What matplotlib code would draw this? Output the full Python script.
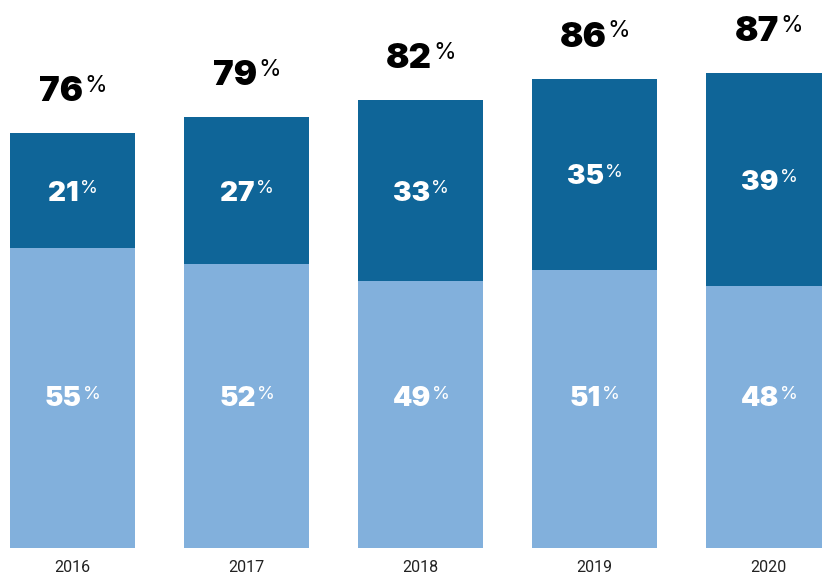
import matplotlib.pyplot as plt

years = ['2016', '2017', '2018', '2019', '2020']
lower = [55, 52, 49, 51, 48]
upper = [21, 27, 33, 35, 39]
totals = [76, 79, 82, 86, 87]

light = '#82b0dc'
dark = '#0f6598'

fig = plt.figure(figsize=(8.22, 5.74), dpi=100)
ax = fig.add_axes([0, 26 / 574, 1, 548 / 574])

x = list(range(len(years)))
ax.bar(x, lower, width=0.72, color=light)
ax.bar(x, upper, width=0.72, bottom=lower, color=dark)

ax.set_xlim(-0.417, 4.307)
ax.set_ylim(0, 100.4)
for s in ax.spines.values():
    s.set_visible(False)
ax.set_yticks([])
ax.set_xticks(x)
ax.set_xticklabels(years, fontsize=11.5, family='Roboto', color='#222222')
ax.tick_params(axis='x', length=0, pad=9)

renderer = fig.canvas.get_renderer()
CAP = 0.727  # cap height of Inter, as a fraction of the font size
LOWER_LABEL_Y = 27.8  # light segment labels all sit on one line


def pct_label(xc, y, value, size, color, dy=0):
    # heavy number with a smaller raised % sign, centred together on xc
    psize = size * 0.66
    num = ax.annotate(str(value), (xc, y), xytext=(0, dy), textcoords='offset points',
                      ha='left', va='baseline', fontsize=size, fontweight=900,
                      family='Inter', color=color)
    pct = ax.annotate('%', (xc, y), xytext=(0, dy), textcoords='offset points',
                      ha='left', va='baseline', fontsize=psize,
                      family='Inter', color=color)
    wn = num.get_window_extent(renderer).width * 72 / fig.dpi
    wp = pct.get_window_extent(renderer).width * 72 / fig.dpi
    start = -(wn + wp) / 2
    num.set_position((start, dy))
    pct.set_position((start + wn + 0.8, dy + CAP * (size - psize) + 0.5))


for i in x:
    pct_label(i, LOWER_LABEL_Y, lower[i], 20, 'white', dy=-CAP * 20 / 2)
    pct_label(i, lower[i] + upper[i] / 2, upper[i], 20, 'white', dy=-CAP * 20 / 2)
    pct_label(i, totals[i], totals[i], 25, 'black', dy=23)

fig.savefig('out.png', dpi=100)
